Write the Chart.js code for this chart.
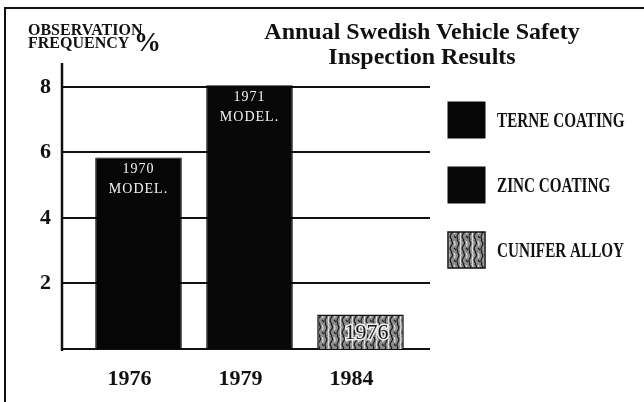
<!DOCTYPE html>
<html><head><meta charset="utf-8">
<script src="https://cdn.jsdelivr.net/npm/chart.js@4"></script>
<style>
html,body{margin:0;padding:0;background:#fff;}
#wrap{position:relative;width:644px;height:402px;overflow:hidden;background:#fff;}
#frame{position:absolute;left:4px;top:7px;width:645px;height:400px;border-left:2px solid #111;border-top:2px solid #111;}
canvas{position:absolute;left:0;top:0;}
.t{position:absolute;font-family:'Liberation Serif','Times New Roman',serif;font-weight:bold;color:#111;white-space:nowrap;}
</style></head><body>
<div id="wrap">
<div id="frame"></div>
<canvas id="c" width="644" height="402"></canvas>
<div class="t" style="left:222px;top:19px;width:400px;text-align:center;font-size:24px;line-height:25px;">Annual Swedish Vehicle Safety<br>Inspection Results</div>
<div class="t" style="left:28px;top:23px;font-size:16px;line-height:13px;">OBSERVATION<br>FREQUENCY</div>
<div class="t" style="left:134px;top:29px;font-size:27px;line-height:27px;">%</div>
</div>
<script>
const categories = ['1976', '1979', '1984'];
const seriesNames = ['TERNE COATING', 'ZINC COATING', 'CUNIFER ALLOY'];
const terneValues = [5.85, null, null];
const zincValues = [null, 8.05, null];
const cuniferValues = [null, null, 1.05];
const yTickValues = [2, 4, 6, 8];
const barLabels = [['1970', 'MODEL.'], ['1971', 'MODEL.'], ['1976']];

const FONT = "'Liberation Serif', 'Times New Roman', serif";

function makePattern() {
  const c = document.createElement('canvas');
  c.width = 12; c.height = 12;
  const g = c.getContext('2d');
  g.fillStyle = '#8c8c8c';
  g.fillRect(0, 0, 12, 12);
  g.strokeStyle = '#1c1c1c';
  g.lineWidth = 1.2;
  g.beginPath();
  g.moveTo(1, 0); g.quadraticCurveTo(4, 3, 2, 6); g.quadraticCurveTo(0, 9, 2, 12);
  g.moveTo(7, 0); g.quadraticCurveTo(10, 3, 7, 6); g.quadraticCurveTo(5, 9, 8, 12);
  g.moveTo(10, 8); g.lineTo(12, 10);
  g.stroke();
  g.strokeStyle = '#f0f0f0';
  g.lineWidth = 1;
  g.beginPath();
  g.moveTo(4, 0); g.quadraticCurveTo(6, 3, 4.5, 6); g.quadraticCurveTo(3.5, 9, 5, 12);
  g.moveTo(10, 1); g.quadraticCurveTo(12, 4, 10.5, 6);
  g.stroke();
  return g.createPattern(c, 'repeat');
}
const cuniferFill = makePattern();

const gridPlugin = {
  id: 'gridExt',
  beforeDatasetsDraw(chart) {
    const {ctx, chartArea: a, scales: {y}} = chart;
    ctx.save();
    ctx.strokeStyle = '#111';
    ctx.lineWidth = 2;
    [0, ...yTickValues].forEach(v => {
      const py = Math.round(y.getPixelForValue(v));
      ctx.beginPath();
      ctx.moveTo(a.left - 21, py);
      ctx.lineTo(a.right + 14, py);
      ctx.stroke();
    });
    ctx.lineWidth = 2.5;
    ctx.beginPath();
    ctx.moveTo(a.left - 21, y.getPixelForValue(8) - 24);
    ctx.lineTo(a.left - 21, y.getPixelForValue(0) + 2);
    ctx.stroke();
    ctx.restore();
  }
};

const labelPlugin = {
  id: 'barText',
  afterDatasetsDraw(chart) {
    const ctx = chart.ctx;
    ctx.save();
    ctx.textAlign = 'center';
    ctx.textBaseline = 'middle';
    chart.data.datasets.forEach((ds, di) => {
      const meta = chart.getDatasetMeta(di);
      meta.data.forEach((el, i) => {
        if (ds.data[i] == null) return;
        const lines = barLabels[di];
        if (lines.length === 2) {
          ctx.fillStyle = '#f4f4f4';
          ctx.font = '14px ' + FONT;
          ctx.letterSpacing = '1px';
          ctx.fillText(lines[0], el.x, el.y + 12);
          ctx.fillText(lines[1], el.x, el.y + 32);
        } else {
          ctx.font = '22px ' + FONT;
          ctx.letterSpacing = '0px';
          const my = (el.y + el.base) / 2 + 1;
          ctx.lineWidth = 3;
          ctx.strokeStyle = '#eeeeee';
          ctx.strokeText(lines[0], el.x + 6, my);
          ctx.fillStyle = '#1a1a1a';
          ctx.fillText(lines[0], el.x + 6, my);
        }
      });
    });
    ctx.restore();
  }
};

const legendPlugin = {
  id: 'sideLegend',
  afterDraw(chart) {
    const {ctx, chartArea: a} = chart;
    chart.data.datasets.forEach((ds, i) => {
      const bx = a.right + 32, by = a.top + 30 + i * 65;
      ctx.save();
      ctx.fillStyle = ds.backgroundColor;
      ctx.fillRect(bx, by, 37, 36);
      ctx.strokeStyle = ds.borderColor;
      ctx.lineWidth = ds.borderWidth;
      ctx.strokeRect(bx, by, 37, 36);
      ctx.translate(bx + 49, by + 20);
      ctx.scale(0.76, 1);
      ctx.font = 'bold 20px ' + FONT;
      ctx.fillStyle = '#111';
      ctx.textAlign = 'left';
      ctx.textBaseline = 'middle';
      ctx.fillText(ds.label, 0, 0);
      ctx.restore();
    });
  }
};

new Chart(document.getElementById('c'), {
  type: 'bar',
  data: {
    labels: categories,
    datasets: [
      {label: seriesNames[0], data: terneValues, backgroundColor: '#060606', borderColor: '#060606', borderWidth: 1},
      {label: seriesNames[1], data: zincValues, backgroundColor: '#080808', borderColor: '#080808', borderWidth: 1},
      {label: seriesNames[2], data: cuniferValues, backgroundColor: cuniferFill, borderColor: '#111', borderWidth: 1.5}
    ]
  },
  options: {
    responsive: false,
    animation: false,
    layout: {padding: {top: 72, right: 228, left: 0, bottom: 0}},
    datasets: {bar: {grouped: false, barPercentage: 0.78, categoryPercentage: 1}},
    scales: {
      x: {
        grid: {display: false},
        border: {display: false},
        ticks: {font: {family: FONT, size: 22, weight: 'bold'}, color: '#111', padding: 9, labelOffset: -9},
        afterFit(s) { s.height = 53; }
      },
      y: {
        min: 0,
        max: 8.458,
        grid: {display: false},
        border: {display: false},
        afterBuildTicks(s) { s.ticks = yTickValues.map(v => ({value: v})); },
        ticks: {font: {family: FONT, size: 22, weight: 'bold'}, color: '#111', padding: 24},
        afterFit(s) { s.width = 83; }
      }
    },
    plugins: {
      legend: {display: false},
      tooltip: {enabled: false}
    }
  },
  plugins: [gridPlugin, labelPlugin, legendPlugin]
});
</script>
</body></html>
